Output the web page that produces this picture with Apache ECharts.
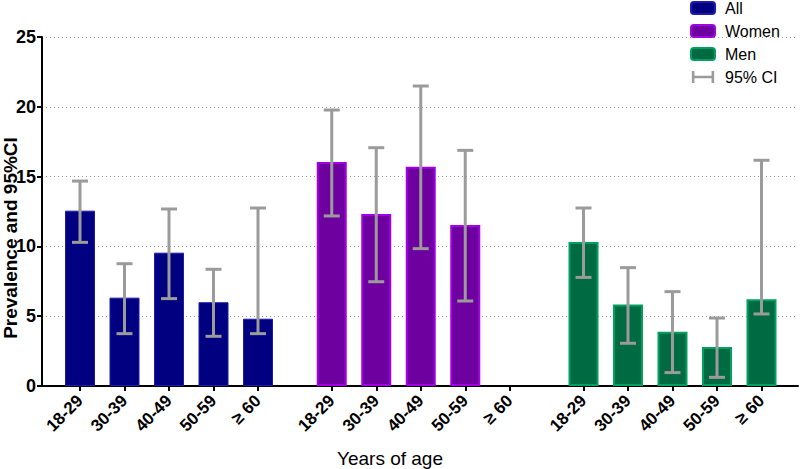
<!DOCTYPE html>
<html>
<head>
<meta charset="utf-8">
<script src="https://cdn.jsdelivr.net/npm/echarts@6/dist/echarts.min.js"></script>
<style>html,body{margin:0;padding:0;background:#fff}#chart{width:800px;height:469px}</style>
</head>
<body>
<div id="chart"></div>
<script>
// ---- data ----
var ageGroups = ['18-29', '30-39', '40-49', '50-59', '\u2265 60'];
var yTicks = [0, 5, 10, 15, 20, 25];
var allPrev  = [12.56, 6.33, 9.55, 6.00, 4.82];
var allLow   = [10.29, 3.75, 6.26, 3.56, 3.75];
var allHigh  = [14.68, 8.76, 12.68, 8.36, 12.75];
var womenPrev = [16.05, 12.32, 15.71, 11.53, null];
var womenLow  = [12.18, 7.47, 9.84, 6.09, null];
var womenHigh = [19.77, 17.07, 21.49, 16.88, null];
var menPrev = [10.32, 5.83, 3.89, 2.79, 6.21];
var menLow  = [7.78, 3.06, 0.96, 0.62, 5.16];
var menHigh = [12.75, 8.48, 6.76, 4.87, 16.17];

// ---- chart ----
var FONT = '"Liberation Sans", Arial, Helvetica, sans-serif';
var chart = echarts.init(document.getElementById('chart'), null, {renderer: 'svg'});

var TOP = 37, BOTTOM = 83;
var groupLefts = [57.75, 309.5, 561.25];
var groupWidth = 222.5;
var yMax = yTicks[yTicks.length - 1];

var grids = [{left: 42, right: 2, top: TOP, bottom: BOTTOM}];
groupLefts.forEach(function (l) {
  grids.push({left: l, width: groupWidth, top: TOP, bottom: BOTTOM});
});

var xAxes = [{
  gridIndex: 0, type: 'value', min: 0, max: 1,
  axisLine: {show: true, lineStyle: {color: '#000', width: 2}},
  axisTick: {show: false}, axisLabel: {show: false}, splitLine: {show: false}
}];
var yAxes = [{
  gridIndex: 0, type: 'value', min: yTicks[0], max: yMax, interval: yTicks[1] - yTicks[0],
  axisLine: {show: true, lineStyle: {color: '#000', width: 2}},
  axisTick: {show: true, length: 5, lineStyle: {color: '#000', width: 2}},
  axisLabel: {color: '#000', fontFamily: FONT, fontWeight: 'bold', fontSize: 18, margin: 6},
  splitLine: {show: true, lineStyle: {color: '#999', type: [1, 3], width: 1}}
}];
for (var g = 1; g <= 3; g++) {
  xAxes.push({
    gridIndex: g, type: 'category', data: ageGroups,
    axisLine: {show: false},
    axisTick: {show: true, alignWithLabel: true, length: 5, lineStyle: {color: '#000', width: 2}},
    axisLabel: {rotate: 45, interval: 0, color: '#000', fontFamily: FONT, fontWeight: 'bold', fontSize: 17, margin: 12},
    splitLine: {show: false}
  });
  yAxes.push({gridIndex: g, type: 'value', min: 0, max: yMax, show: false, splitLine: {show: false}});
}

var groups = [
  {name: 'All', prev: allPrev, low: allLow, high: allHigh, fill: '#000080', border: '#1c1ca8', bw: 1},
  {name: 'Women', prev: womenPrev, low: womenLow, high: womenHigh, fill: '#6e00a0', border: '#a400e6', bw: 2},
  {name: 'Men', prev: menPrev, low: menLow, high: menHigh, fill: '#006a42', border: '#00a063', bw: 2}
];

function errRender(params, api) {
  var x = api.value(0);
  var lo = api.coord([x, api.value(1)]);
  var hi = api.coord([x, api.value(2)]);
  var cap = 8;
  var st = {stroke: '#9b9b9b', lineWidth: 3};
  return {type: 'group', children: [
    {type: 'line', shape: {x1: lo[0], y1: lo[1], x2: hi[0], y2: hi[1]}, style: st},
    {type: 'line', shape: {x1: lo[0] - cap, y1: lo[1], x2: lo[0] + cap, y2: lo[1]}, style: st},
    {type: 'line', shape: {x1: hi[0] - cap, y1: hi[1], x2: hi[0] + cap, y2: hi[1]}, style: st}
  ]};
}

var series = [];
groups.forEach(function (grp, i) {
  series.push({
    name: grp.name, type: 'bar', xAxisIndex: i + 1, yAxisIndex: i + 1,
    data: grp.prev, barWidth: 30,
    itemStyle: {color: grp.fill, borderColor: grp.border, borderWidth: grp.bw},
    emphasis: {disabled: true}, z: 2
  });
  var err = [];
  grp.prev.forEach(function (v, k) {
    if (v != null) err.push([k, grp.low[k], grp.high[k]]);
  });
  series.push({
    name: '95% CI', type: 'custom', xAxisIndex: i + 1, yAxisIndex: i + 1,
    data: err, renderItem: errRender, encode: {x: 0, y: [1, 2]},
    itemStyle: {color: '#9b9b9b'}, z: 5
  });
});

chart.setOption({
  animation: false,
  backgroundColor: '#fff',
  grid: grids, xAxis: xAxes, yAxis: yAxes, series: series,
  legend: {
    orient: 'vertical', left: 685, top: -5,
    itemWidth: 24, itemHeight: 12, itemGap: 7,
    textStyle: {fontFamily: FONT, fontSize: 16, color: '#000', lineHeight: 16, padding: [0, 0, 0, 5]},
    data: ['All', 'Women', 'Men',
      {name: '95% CI', icon: 'path://M0,0h3v14h-3z M3,5.5h20v3h-20z M23,0h3v14h-3z', itemStyle: {color: '#9b9b9b', borderWidth: 0}}],
    selectedMode: false
  },
  graphic: [
    {type: 'text', x: 10, y: 238, rotation: Math.PI / 2,
      style: {text: 'Prevalence and 95%CI', font: 'bold 19px ' + FONT, fill: '#000', align: 'center', verticalAlign: 'middle'}},
    {type: 'text', x: 390, y: 458,
      style: {text: 'Years of age', font: '19px ' + FONT, fill: '#000', align: 'center', verticalAlign: 'middle'}}
  ]
});
</script>
</body>
</html>
